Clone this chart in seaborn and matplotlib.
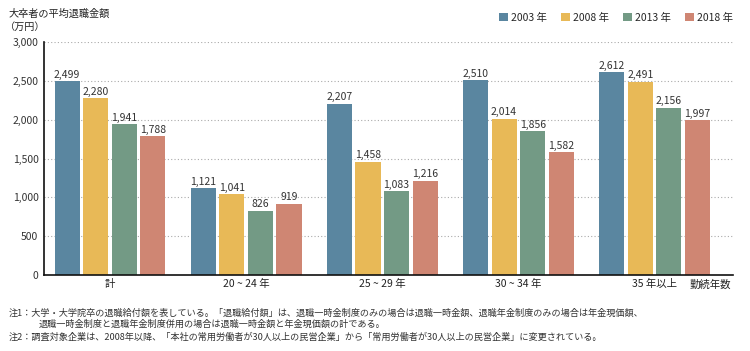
import matplotlib
matplotlib.use("Agg")
import matplotlib.pyplot as plt
import seaborn as sns
import pandas as pd
from matplotlib.patches import Patch

categories = ["計", "20 ~ 24 年", "25 ~ 29 年", "30 ~ 34 年", "35 年以上"]
years = ["2003 年", "2008 年", "2013 年", "2018 年"]
v2003 = [2499, 1121, 2207, 2510, 2612]
v2008 = [2280, 1041, 1458, 2014, 2491]
v2013 = [1941, 826, 1083, 1856, 2156]
v2018 = [1788, 919, 1216, 1582, 1997]
colors = ["#5a86a0", "#e8b957", "#739a85", "#cf8673"]

rows = []
for y, vals in zip(years, [v2003, v2008, v2013, v2018]):
    for c, v in zip(categories, vals):
        rows.append({"cat": c, "year": y, "value": v})
df = pd.DataFrame(rows)

sns.set_theme(style="white")
plt.rcParams['font.family'] = ['Noto Sans CJK JP', 'DejaVu Sans']

fig = plt.figure(figsize=(7.5, 3.51), dpi=100)
ax = fig.add_axes([0.0587, 0.2165, 0.9183, 0.6635])

sns.barplot(data=df, x="cat", y="value", hue="year", palette=colors,
            width=0.84, gap=0.12, ax=ax, legend=False, saturation=1,
            edgecolor="none")

for cont in ax.containers:
    ax.bar_label(cont, labels=[f"{v:,.0f}" for v in cont.datavalues],
                 padding=1, fontsize=7.5, color="#333333")

ax.set_ylim(0, 3000)
ax.set_xlim(-0.485, 4.575)
ax.set_yticks([0, 500, 1000, 1500, 2000, 2500, 3000])
ax.set_yticklabels([f"{v:,}" for v in [0, 500, 1000, 1500, 2000, 2500, 3000]],
                   fontsize=7.5, color="#333333")
ax.tick_params(axis="x", labelsize=7.5, colors="#222222", length=0, pad=3)
ax.tick_params(axis="y", length=0, pad=4)
ax.yaxis.grid(True, linestyle=(0, (1, 2)), color="#aaaaaa", linewidth=0.8)
ax.set_axisbelow(True)
ax.set_xlabel("")
ax.set_ylabel("")
for s in ["top", "right"]:
    ax.spines[s].set_visible(False)
ax.spines["left"].set_color("#111111")
ax.spines["bottom"].set_color("#111111")
ax.spines["left"].set_linewidth(1.2)
ax.spines["bottom"].set_linewidth(1.2)

fig.text(0.012, 0.96, "大卒者の平均退職金額", fontsize=7.3, color="#222222", va="center")
fig.text(0.006, 0.923, "（万円）", fontsize=7.3, color="#222222", va="center")
fig.text(0.947, 0.188, "勤続年数", fontsize=7.5, color="#222222", ha="center", va="center")

handles = [Patch(facecolor=c, edgecolor="none") for c in colors]
fig.legend(handles, years, loc="center right", bbox_to_anchor=(0.99, 0.95), ncol=4,
           frameon=False, fontsize=7.5, handlelength=0.9, handleheight=0.9,
           handletextpad=0.3, columnspacing=1.3)

notes = [
    (0.012, 0.108, "注1：大学・大学院卒の退職給付額を表している。「退職給付額」は、退職一時金制度のみの場合は退職一時金額、退職年金制度のみの場合は年金現価額、"),
    (0.051, 0.076, "退職一時金制度と退職年金制度併用の場合は退職一時金額と年金現価額の計である。"),
    (0.012, 0.040, "注2：調査対象企業は、2008年以降、「本社の常用労働者が30人以上の民営企業」から「常用労働者が30人以上の民営企業」に変更されている。"),
]
for x, y, t in notes:
    fig.text(x, y, t, fontsize=6.6, color="#333333", va="center")

fig.savefig("out.png", dpi=100)
